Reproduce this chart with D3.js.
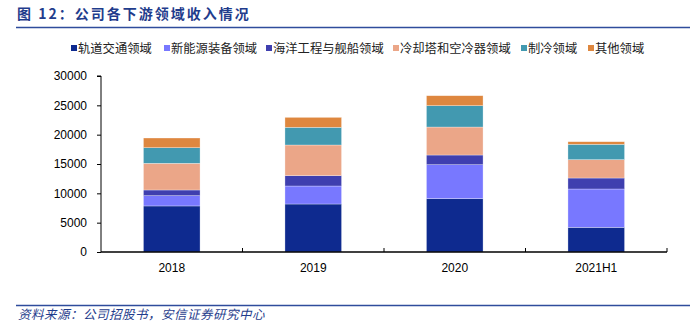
<!DOCTYPE html>
<html>
<head>
<meta charset="utf-8">
<script src="https://cdn.jsdelivr.net/npm/d3@7"></script>
<style>
  body { margin: 0; background: #fff; }
  svg { display: block; }
</style>
</head>
<body>
<div id="chart"></div>
<script>
const WIDTH = 690;
const HEIGHT = 327;

const categories = ['2018', '2019', '2020', '2021H1'];
const seriesNames = ['轨道交通领域', '新能源装备领域', '海洋工程与舰船领域', '冷却塔和空冷器领域', '制冷领域', '其他领域'];
const colors = ['#0E2A8F', '#7878FF', '#3F3FAF', '#EBA688', '#4299B0', '#DE873F'];

// values per series, in category order
const railTransit = [7850, 8180, 9090, 4200];
const newEnergy = [1750, 3070, 5790, 6540];
const marine = [970, 1760, 1650, 1870];
const coolingTower = [4550, 5230, 4770, 3130];
const refrigeration = [2660, 3010, 3640, 2610];
const other = [1650, 1700, 1700, 450];
const yTicks = [0, 5000, 10000, 15000, 20000, 25000, 30000];

const seriesValues = [railTransit, newEnergy, marine, coolingTower, refrigeration, other];

const margin = { left: 101, right: 23, top: 76, bottom: 75 };

const svg = d3.select('#chart')
  .append('svg')
  .attr('width', WIDTH)
  .attr('height', HEIGHT);

// title
svg.append('text')
  .attr('x', 17)
  .attr('y', 19)
  .style('font-family', '"Noto Sans CJK SC", sans-serif')
  .style('font-size', '14px')
  .style('font-weight', 'bold')
  .style('letter-spacing', '2px')
  .style('fill', '#1F3C8C')
  .text('图 12：公司各下游领域收入情况');

svg.append('line')
  .attr('x1', 16).attr('x2', 690)
  .attr('y1', 27.5).attr('y2', 27.5)
  .attr('stroke', '#2F4C9C')
  .attr('stroke-width', 1.5);

// stacked data
const table = categories.map((c, i) => {
  const row = { cat: c };
  seriesNames.forEach((s, j) => { row[s] = seriesValues[j][i]; });
  return row;
});
const stacked = d3.stack().keys(seriesNames)(table);

const x = d3.scaleBand()
  .domain(categories)
  .range([margin.left, WIDTH - margin.right])
  .paddingInner(0.6)
  .paddingOuter(0.3);

const xBand = d3.scaleBand()
  .domain(categories)
  .range([margin.left, WIDTH - margin.right]);

const y = d3.scaleLinear()
  .domain([0, 30000])
  .range([HEIGHT - margin.bottom, margin.top]);

svg.append('g')
  .selectAll('g')
  .data(stacked)
  .join('g')
    .attr('fill', (d, i) => colors[i])
  .selectAll('rect')
  .data(d => d)
  .join('rect')
    .attr('x', d => x(d.data.cat))
    .attr('width', x.bandwidth())
    .attr('y', d => y(d[1]))
    .attr('height', d => y(d[0]) - y(d[1]))
    .attr('stroke', '#ffffff')
    .attr('stroke-opacity', 0.5)
    .attr('stroke-width', 0.6);

// y axis
const yAxis = d3.axisLeft(y).tickValues(yTicks).tickSize(4).tickPadding(10).tickFormat(d3.format('d'));
const yG = svg.append('g')
  .attr('transform', `translate(${margin.left},0)`)
  .call(yAxis);
yG.select('.domain').attr('d', `M-4,${y(30000)}H0V${y(0)}`);

// x axis with boundary ticks
const xG = svg.append('g')
  .attr('transform', `translate(0,${y(0)})`);
xG.append('line')
  .attr('x1', margin.left).attr('x2', WIDTH - margin.right)
  .attr('stroke', '#000').attr('stroke-width', 1.5);
xG.selectAll('.tk')
  .data(categories)
  .join('line')
    .attr('class', 'tk')
    .attr('x1', d => xBand(d) + xBand.bandwidth())
    .attr('x2', d => xBand(d) + xBand.bandwidth())
    .attr('y1', 0).attr('y2', -4)
    .attr('stroke', '#000');
xG.selectAll('.lbl')
  .data(categories)
  .join('text')
    .attr('class', 'lbl')
    .attr('x', d => xBand(d) + xBand.bandwidth() / 2)
    .attr('y', 20)
    .attr('text-anchor', 'middle')
    .style('font-family', '"Liberation Sans", Arial, sans-serif')
    .style('font-size', '12px')
    .text(d => d);

yG.selectAll('text')
  .style('font-family', '"Liberation Sans", Arial, sans-serif')
  .style('font-size', '12px')
  .style('fill', '#000');
yG.selectAll('line, path').attr('stroke', '#000');
yG.select('.domain').attr('stroke-width', 1);

// legend
const legendX = [71, 164, 266, 393, 521, 588];
const legend = svg.append('g')
  .selectAll('g')
  .data(seriesNames)
  .join('g')
    .attr('transform', (d, i) => `translate(${legendX[i]},48)`);
legend.append('rect')
  .attr('x', 0).attr('y', -3)
  .attr('width', 6).attr('height', 6)
  .attr('fill', (d, i) => colors[i]);
legend.append('text')
  .attr('x', 7)
  .attr('y', 4.5)
  .style('font-family', '"Noto Sans CJK SC", sans-serif')
  .style('font-size', '12.3px')
  .style('fill', '#222')
  .text(d => d);

// source
svg.append('line')
  .attr('x1', 16).attr('x2', 690)
  .attr('y1', 305.5).attr('y2', 305.5)
  .attr('stroke', '#2F4C9C')
  .attr('stroke-width', 1.5);
svg.append('text')
  .attr('x', 18)
  .attr('y', 319)
  .style('font-family', '"Noto Sans CJK SC", sans-serif')
  .style('font-size', '12.5px')
  .style('font-style', 'italic')
  .style('letter-spacing', '0.5px')
  .style('fill', '#1F3C8C')
  .text('资料来源：公司招股书，安信证券研究中心');
</script>
</body>
</html>
